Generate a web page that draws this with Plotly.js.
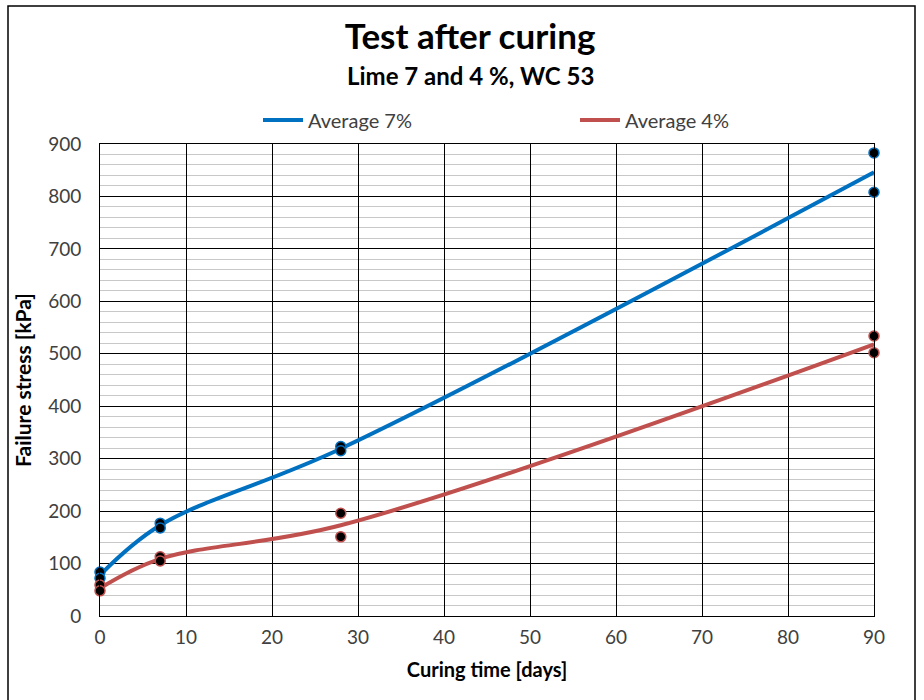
<!DOCTYPE html>
<html>
<head>
<meta charset="utf-8">
<script src="https://cdn.plot.ly/plotly-3.0.1.min.js"></script>
<style>html,body{margin:0;padding:0;background:#fff;}#chart{width:924px;height:700px;}</style>
</head>
<body>
<div id="chart"></div>
<script>
// Curing time (days)
const days = [0, 7, 28, 90];
// Average curves
const avg7 = [78, 173, 319, 846];
const avg4 = [53, 109, 173, 518];
// Individual test points
const ptDays7 = [0, 0, 7, 7, 28, 28, 90, 90];
const pts7 = [84, 72, 177, 168, 323, 315, 883, 808];
const ptDays4 = [0, 0, 7, 7, 28, 28, 90, 90];
const pts4 = [59, 48, 113, 105, 196, 151, 534, 502];

const titleText = "Test after curing";
const subtitleText = "Lime 7 and 4 %, WC 53";
const xTitle = "Curing time [days]";
const yTitle = "Failure stress [kPa]";

const FONT = "Lato, 'Open Sans', sans-serif";
const BLUE = "#0070C0";
const RED = "#C0504D";

const traces = [
  {x: days, y: avg7, type: "scatter", mode: "lines", name: "Average 7%",
   line: {color: BLUE, width: 4, shape: "spline", smoothing: 1}},
  {x: days, y: avg4, type: "scatter", mode: "lines", name: "Average 4%",
   line: {color: RED, width: 4, shape: "spline", smoothing: 1}},
  {x: ptDays7, y: pts7, type: "scatter", mode: "markers", showlegend: false,
   marker: {color: "#000", size: 10, line: {color: BLUE, width: 1.5}}, cliponaxis: false},
  {x: ptDays4, y: pts4, type: "scatter", mode: "markers", showlegend: false,
   marker: {color: "#000", size: 10, line: {color: RED, width: 1.5}}, cliponaxis: false}
];

const layout = {
  width: 924, height: 700,
  margin: {l: 100, r: 50, t: 144, b: 84},
  paper_bgcolor: "#fff", plot_bgcolor: "#fff",
  font: {family: FONT, color: "#404040", size: 18},
  title: {text: "<b>" + titleText + "</b>", x: 470/924, xanchor: "center",
          y: 1 - 37/700, yanchor: "middle", yref: "container",
          font: {family: FONT, size: 35, color: "#000"}},
  showlegend: true,
  legend: {orientation: "h", x: 258/924, xref: "container", xanchor: "left",
           y: 1 - 120/700, yref: "container", yanchor: "middle",
           entrywidth: 262, entrywidthmode: "pixels",
           font: {family: FONT, size: 20, color: "#404040"}, itemwidth: 40,
           bgcolor: "rgba(0,0,0,0)"},
  xaxis: {range: [0, 90], dtick: 10, tick0: 0, showgrid: true, gridcolor: "#000", gridwidth: 1,
          zeroline: false, showline: true, linecolor: "#000", linewidth: 1, mirror: true,
          ticks: "", ticklabelstandoff: 4, tickfont: {size: 19, color: "#404040"},
          title: {text: "<b>" + xTitle + "</b>", font: {size: 20, color: "#000"}, standoff: 16}},
  yaxis: {range: [0, 900], dtick: 100, tick0: 0, showgrid: true, gridcolor: "#000", gridwidth: 1,
          zeroline: false, showline: true, linecolor: "#000", linewidth: 1, mirror: true,
          ticks: "", ticklabelstandoff: 14, tickfont: {size: 19, color: "#404040"},
          minor: {dtick: 20, showgrid: true, gridcolor: "#c8c8c8", gridwidth: 1},
          title: {text: "<b>" + yTitle + "</b>", font: {size: 21, color: "#000"}, standoff: 10}},
  annotations: [
    {text: "<b>" + subtitleText + "</b>", xref: "paper", yref: "paper",
     x: (470-100)/774, y: (616-76)/472, xanchor: "center", yanchor: "middle",
     showarrow: false, font: {family: FONT, size: 24, color: "#000"}}
  ],
  shapes: [
    {type: "rect", xref: "paper", yref: "paper",
     x0: (8-100)/774, x1: (915-100)/774, y0: (616-705)/472, y1: (616-6)/472,
     line: {color: "#000", width: 1.5}, fillcolor: "rgba(0,0,0,0)", layer: "below"}
  ]
};

Plotly.newPlot("chart", traces, layout, {displayModeBar: false, staticPlot: true});
</script>
</body>
</html>
